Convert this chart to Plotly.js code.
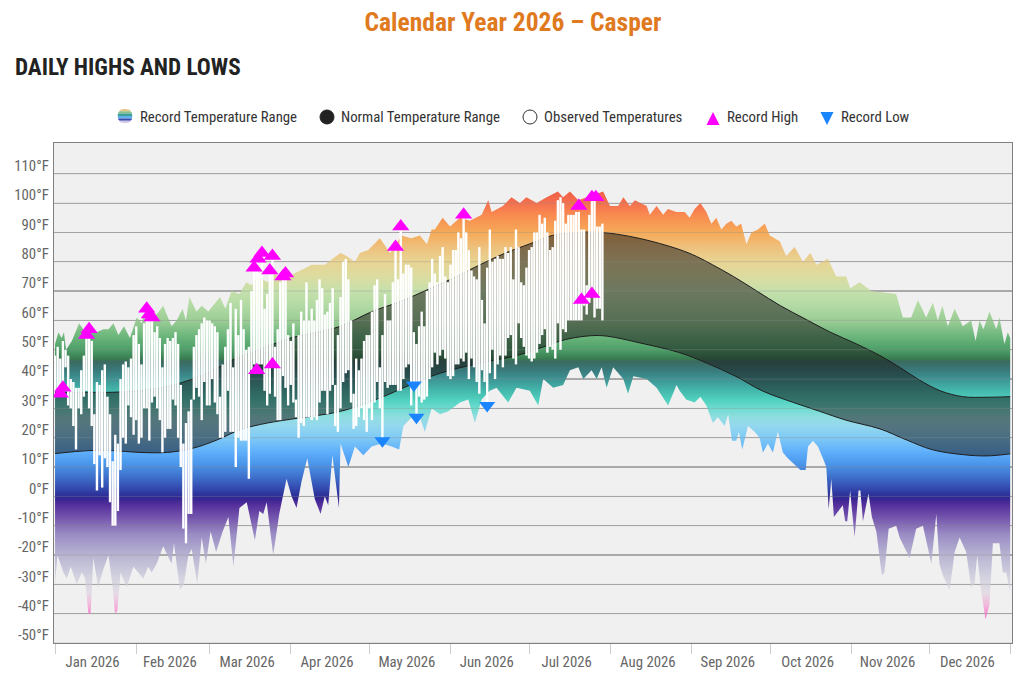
<!DOCTYPE html>
<html><head><meta charset="utf-8">
<script src="https://cdn.plot.ly/plotly-3.0.1.min.js"></script>
<style>
html,body{margin:0;padding:0;background:#fff}
#chart{width:1024px;height:692px}
svg text{font-stretch:75%}
</style></head><body><div id="chart"></div>
<script>
// Day numbers are counted from 1 Jan 2026 = 0
const recordHighDays=[0,1.3,2.5,3.4,4.2,6.4,9.2,11.5,13.6,15.9,18.4,20.4,22.3,24.2,26.3,28.6,31.2,33.1,35,38.8,41.3,44.5,46.4,48.7,50,51.3,54,56,58.5,61,63,65,67.4,70.4,73,75,77.6,81,84,87,93.5,98,100.5,103,106,109,111.3,114.5,116.4,119.6,124,128,132.3,136,139.3,142,143.8,145,148,150.8,154.6,158.4,162.9,165.4,166.7,171,174.3,177.5,180,183.9,187.7,192,194,196.6,199.8,203,209.3,211.9,215,217,219.5,221.4,225.9,227.1,229.7,232.2,234,237.3,238.5,240.4,242.3,244.2,246.4,248.7,250.6,252.5,254.4,256.3,258.2,260.1,262,264,265.9,268.4,271,272.9,276.7,279.2,282.4,285.6,288.4,290.7,295.1,298.3,302.1,303.6,307.2,311.7,321.2,323.7,326.9,329.5,332.6,335.2,337.1,338.8,340.9,343.5,346.6,349.8,351.5,353,354.5,356.8,359.4,360.6,362.5,363.8,364.7];
const recordHighTemps=[52,56,54,56,50,53,59,56,56,56,57,57,59,55,58,54,61,59,65,62,65,58,60,64,60,68,63,65,63,66,68,64,70,69,73,72,75,73,76,74,77,79,79,79,81,83,82,80,83,84,88,83,89,88,89,86,91,91,95,92,95,94,96,101,97,99,102,100,102,100,102,104,102,104,101,102,104,99,99,102,99,101,99,96,99,96,98,97,97,97,95,98,100,97,93,95,91,93,94,92,93,86,90,91,93,89,87,82,85,80,83,79,81,75,75,71,73,70,69,61,61,67,61,66,60,65,58,64,58,60,53,60,57,63,57,61,52,56,54];
const recordLowDays=[0,0.9,3.2,4.5,6,8.3,10.2,11.5,12.7,13.6,14.6,16.5,18.4,20.4,22,22.9,23.8,25,27.4,29.9,33.7,35.6,36.9,38.8,41.3,44.5,45.4,47.7,49.2,50.9,52.2,54.3,56,57.6,59.4,61.5,64,66.2,68.1,70.4,73.2,76.3,78,79.5,80.8,83.3,85.6,88.4,90.3,92.2,94.1,96.3,99.2,101.4,103,104.3,105.9,108.4,109,112,114.5,117.7,120.9,124.7,128.5,131.4,133,136.2,139.3,141.2,143.8,147,150.2,154.6,157.8,160.3,162.9,166,168.6,173,176.2,181.3,184.5,186.4,190.2,194,196.6,199.8,201.7,204.9,206.8,208.7,210.6,213.1,217,218.8,220.8,225.9,229.7,234.1,237.3,238.5,241,244.2,246.4,248.7,251.2,253.1,255.7,257,258.5,260.1,261.1,262.4,264.6,267.1,269,270.3,272.2,274.1,276,277.9,279.8,282.4,284.6,286.6,287.5,289.4,291.3,293.2,294.5,295.4,296.4,297.4,300.8,301.7,302.5,303.6,305.3,306.8,307.5,308.5,310.6,311.9,313.6,315.7,316.7,318.3,321.2,322.5,326.3,328.8,331.4,334.6,336.5,337.7,339,341.6,343.5,345.4,347.9,349.8,351.1,352.1,353.6,355.3,356.8,358.1,360.6,361.9,363.2,364.7];
const recordLowTemps=[-30,-20,-26,-28,-24,-30,-26,-28,-40,-40,-21,-31,-25,-20,-31,-40,-39,-26,-31,-24,-28,-24,-26,-23,-17,-23,-16,-32,-30,-20,-18,-30,-14,-23,-12,-19,-12,-7,-24,-4,-2,-15,-5,-6,-2,-20,-6,6,0,-4,5,13,-1,-6,0,-3,14,-4,18,10,17,14,17,18,17,16,24,27,27,22,30,28,29,32,33,25,33,36,37,32,37,36,31,40,37,38,43,44,40,43,40,44,37,44,40,35,41,40,37,31,38,36,33,32,34,31,25,27,24,28,19,19,22,16,24,22,20,15,18,15,22,15,13,11,9,9,17,19,17,13,10,-4.5,6,-7,-3,-8.5,-8.5,2,-14,2,2,-8.5,1,-7,-12,-27,-26,-11,-10,-14,-21,-11,-10,-23,-6,-23,-27,-32,-19,-14,-19,-31,-30,-20,-32,-42,-37,-16,-16,-26,-26,-33];
const normalHighDays=[0,13,22,32,40,48,58,68,78,90,100,109,121,132,142,151,160,172,181,190,200,209,223,238,245,251,259,268,277,286,296,306,315,322.5,330,338,346.6,355.5,364.7];
const normalHighTemps=[35.5,35.5,35.5,36,37,38.7,42,46.6,50,54,56,58,63,66.5,70.4,74,78,83,86,89,90,90,88,84.3,81.8,79,75,70,65,60.7,56,52,48,44,39.7,36,34,33.8,34];
const normalLowDays=[0,13,22,32,43,53,62,71,81,93,109,125,134,147,160,168,175,185,195,205,211,223,238.5,249,260,270,282,292,302,315,325,335,347,356,364.7];
const normalLowTemps=[14.6,15.6,15.6,15,15,16.5,19.3,22.8,25,26.7,29,33.9,37.4,42,45,46.5,47.7,50.5,53.5,54.8,54.6,52.4,49,45.4,40.9,36,32,29,26,23,19.3,15.9,14.2,13.8,14.5];
const observedHigh=[48,51,47,53,50,48,40,39,37,37, 43,48,55,57,53,28,39,38,43,45, 34,28,12,21,18,40,45,46,44,47, 55,58,52,45,59,64,62,61,56,58, 54,44,52,54,53,54,56,52,38,18, 25,29,33,51,55,57,59,61,60,60, 59,58,56,34,45,51,57,66,44,64, 55,67,57,50,51,70,78,81,76,83, 64,69,77,82,51,57,73,75,76,55, 53,59,33,55,63,60,73,60,64,60, 67,74,71,62,63,66,71,38,55,68, 80,81,74,60,35,47,43,47,53,55, 55,63,72,74,44,55,69,60,60,73, 85,74,91,76,79,79,78,56,52,58, 63,58,70,73,81,76,73,82,85,75, 73,79,84,84,90,88,96,90,84,77, 75,74,85,67,59,78,91,80,81,82, 81,81,85,83,85,74,91,85,73,72, 78,84,85,90,90,96,93,95,90,84, 85,94,101,102,100,93,96,96,96,97, 97,91,91,72,96,102,102,92,92,93];
const observedLow=[36,36,38,34,44,31,30,24,16,30, 28,34,36,30,24,11,2,14,3,13, 10,-2,-10,-10,-5,9,20,18,31,27, 21,26,18,20,30,30,19,32,34,30, 26,15,20,23,23,33,31,20,10,-11, -16,-6,-6,33,37,34,26,39,31,31, 40,32,28,20,20,22,36,22,22,10, 20,19,19,19,6,43,45,44,45,45, 36,31,35,45,34,26,26,41,37,31, 38,32,27,20,25,24,27,27,26,27, 26,32,36,36,28,36,38,24,22,30, 39,42,43,32,23,24,27,30,26,22, 30,26,32,39,30,20,39,37,38,38, 38,36,36,40,44,45,31,38,27,34, 32,33,34,40,44,49,45,48,50,47, 41,40,41,45,45,47,46,49,40,47, 44,39,35,43,39,32,42,50,40,45, 48,44,48,54,55,47,45,59,54,51, 48,47,46,47,49,52,55,57,49,51, 50,47,59,50,57,56,60,60,60,60, 60,60,65,62,66,69,61,64,64,60];
const highMarkDays=[2,3,12,13,35,36,37,76,77.5,79,83,82,87,88,77,83,130,132,156,200,205,206.5,201,205];
const highMarkTemps=[35,37,55,57,64,62,61,78,81,83,82,77,75,76,43,45,85,92,96,99,102,102,67,69];
const lowMarkDays=[125,137,138,165];
const lowMarkTemps=[19,38,27,31];
const yTickVals=[-50,-40,-30,-20,-10,0,10,20,30,40,50,60,70,80,90,100,110];
const yTickText=yTickVals.map(v=>v+'°F');
const gradientTemps=[105,100,96,90,85,80,75,70,65,60,55,50,47,46,43,40,36,33,30,27,24,20,15,11,7,3,0,-1,-3,-8,-13,-20,-28,-33,-37,-42];
const gradientColors=['#ee5a44','#f4704e','#f98a50','#f5aa58','#eec07c','#e8d494','#dcdca0','#c6e0ac','#b2daa4','#9ccd96','#6fb87e','#4c9f68','#3a7d50','#3a6a60','#3a7a7c','#3c9494','#44b8ac','#50d0bf','#6edccf','#90dde0','#94d8ee','#7fcaf5','#5eaefb','#4a96ea','#3f74ce','#344cb0','#2b2c96','#3a2692','#55309c','#7a5cb0','#9a8cc4','#b8b4d2','#d4d4e0','#e4dce4','#f2b8dc','#f870c8'];
const legendLabels=['Record Temperature Range','Normal Temperature Range','Observed Temperatures','Record High','Record Low'];
const swatchStripes=['#e6c585','#86c08a','#3f9f96','#5cb2ea','#3a4cb0','#cfc6e6'];

const BASE=Date.UTC(2026,0,1);
const toDate=d=>new Date(BASE+d*86400000).toISOString().slice(0,19).replace('T',' ');
const dates=a=>a.map(toDate);
const T0=gradientTemps[0],TN=gradientTemps[gradientTemps.length-1];
const colorscale=gradientTemps.map((t,i)=>[(T0-t)/(T0-TN),gradientColors[i]]);
const xRange=[toDate(-0.4),toDate(365.4)];

const barX=[],barY=[];
observedHigh.forEach((h,i)=>{barX.push(toDate(i),toDate(i),null);barY.push(observedLow[i],h,null);});
const gridX=[],gridY=[];
yTickVals.forEach(v=>{gridX.push(xRange[0],xRange[1],null);gridY.push(v,v,null);});

const traces=[
 {x:dates(recordLowDays),y:recordLowTemps,mode:'lines',line:{width:0},hoverinfo:'skip',showlegend:false},
 {x:dates(recordHighDays),y:recordHighTemps,mode:'lines',line:{width:0},fill:'tonexty',
  fillgradient:{type:'vertical',colorscale:colorscale,start:T0,stop:TN},hoverinfo:'skip',showlegend:false},
 {x:dates(normalLowDays),y:normalLowTemps,mode:'lines',line:{color:'#1e1e1e',width:1,shape:'spline'},hoverinfo:'skip',showlegend:false},
 {x:dates(normalHighDays),y:normalHighTemps,mode:'lines',line:{color:'#1e1e1e',width:1,shape:'spline'},fill:'tonexty',fillcolor:'rgba(25,25,25,0.52)',hoverinfo:'skip',showlegend:false},
 {x:gridX,y:gridY,mode:'lines',line:{color:'rgba(140,140,140,0.35)',width:1},hoverinfo:'skip',showlegend:false},
 {x:barX,y:barY,mode:'lines',line:{color:'#ffffff',width:2.4},hoverinfo:'skip',showlegend:false},
 {x:dates(highMarkDays),y:highMarkTemps,mode:'markers',marker:{symbol:'triangle-up',size:15,color:'#ff00ff'},hoverinfo:'skip',showlegend:false},
 {x:dates(lowMarkDays),y:lowMarkTemps,mode:'markers',marker:{symbol:'triangle-down',size:14,color:'#1a85ff'},hoverinfo:'skip',showlegend:false}
];

const W=1024,H=692,ML=54,MR=12,MT=143,MB=49;
const PW=W-ML-MR,PH=H-MT-MB;
const px=x=>(x-ML)/PW, py=y=>(H-MB-y)/PH;
const FONT='Roboto, sans-serif';
const shapes=[];
(function(){const cx=125,cy=116,r=7.2,n=swatchStripes.length;
 swatchStripes.forEach((c,i)=>{
  const y1=-r+2*r*i/n,y2=-r+2*r*(i+1)/n;
  const w1=Math.sqrt(Math.max(0,r*r-y1*y1)),w2=Math.sqrt(Math.max(0,r*r-y2*y2));
  const wm=Math.max(w1,w2,(y1*y2<0)?r:0);
  const p=`M${px(cx-w1)} ${py(cy+y1)}L${px(cx+w1)} ${py(cy+y1)}L${px(cx+wm)} ${py(cy+(y1+y2)/2)}L${px(cx+w2)} ${py(cy+y2)}L${px(cx-w2)} ${py(cy+y2)}L${px(cx-wm)} ${py(cy+(y1+y2)/2)}Z`;
  shapes.push({type:'path',xref:'paper',yref:'paper',path:p,fillcolor:c,line:{width:0}});
 });
})();
const circle=(cx,cy,r,fill,lc)=>({type:'circle',xref:'paper',yref:'paper',x0:px(cx-r),x1:px(cx+r),y0:py(cy+r),y1:py(cy-r),fillcolor:fill,line:{color:lc,width:1}});
shapes.push(circle(327,117,7,'#222222','#222222'));
shapes.push(circle(530,117,7,'#ffffff','#333333'));
shapes.push({type:'path',xref:'paper',yref:'paper',path:`M${px(706.5)} ${py(125)}L${px(719.5)} ${py(125)}L${px(713)} ${py(112)}Z`,fillcolor:'#ff00ff',line:{width:0}});
shapes.push({type:'path',xref:'paper',yref:'paper',path:`M${px(820.5)} ${py(112)}L${px(833.5)} ${py(112)}L${px(827)} ${py(125)}Z`,fillcolor:'#1a85ff',line:{width:0}});

const legendX=[139,340,543,726,840];
const annotations=legendLabels.map((t,i)=>({text:t,xref:'paper',yref:'paper',x:px(legendX[i]),y:py(117),xanchor:'left',yanchor:'middle',showarrow:false,xshift:-1,font:{family:FONT,size:14.8,color:'#333333'}}));
annotations.push({text:'DAILY HIGHS AND LOWS',xref:'paper',yref:'paper',x:px(14),y:py(67),xanchor:'left',yanchor:'middle',showarrow:false,xshift:-1,font:{family:FONT,size:23.2,weight:700,color:'#222222'}});

const layout={
 width:W,height:H,margin:{l:ML,r:MR,t:MT,b:MB,pad:0},
 paper_bgcolor:'#ffffff',plot_bgcolor:'#f0f0f0',
 title:{text:'Calendar Year 2026 – Casper',x:513/W,xanchor:'center',y:(H-22)/H,yanchor:'middle',font:{family:FONT,size:25.5,weight:700,color:'#e07a1f'}},
 xaxis:{type:'date',range:xRange,dtick:'M1',tick0:'2026-01-01',ticklabelmode:'period',tickformat:'%b %Y',ticks:'outside',ticklen:10,tickcolor:'#cccccc',tickwidth:1,ticklabelstandoff:-5,ticklabelshift:-3,
  showgrid:false,zeroline:false,showline:true,linecolor:'#808080',linewidth:1.2,mirror:true,tickfont:{family:FONT,size:14.8,color:'#666666'}},
 yaxis:{range:[-50,120.5],tickmode:'array',tickvals:yTickVals,ticktext:yTickText,ticks:'',ticklabelshift:-8,ticklabelstandoff:1,
  showgrid:true,gridcolor:'#b0b0b0',gridwidth:1.2,zeroline:false,showline:true,linecolor:'#808080',linewidth:1.2,mirror:true,tickfont:{family:FONT,size:14.8,color:'#666666'}},
 shapes:shapes,annotations:annotations,showlegend:false
};
Plotly.newPlot('chart',traces,layout,{displayModeBar:false,staticPlot:true});
</script></body></html>
